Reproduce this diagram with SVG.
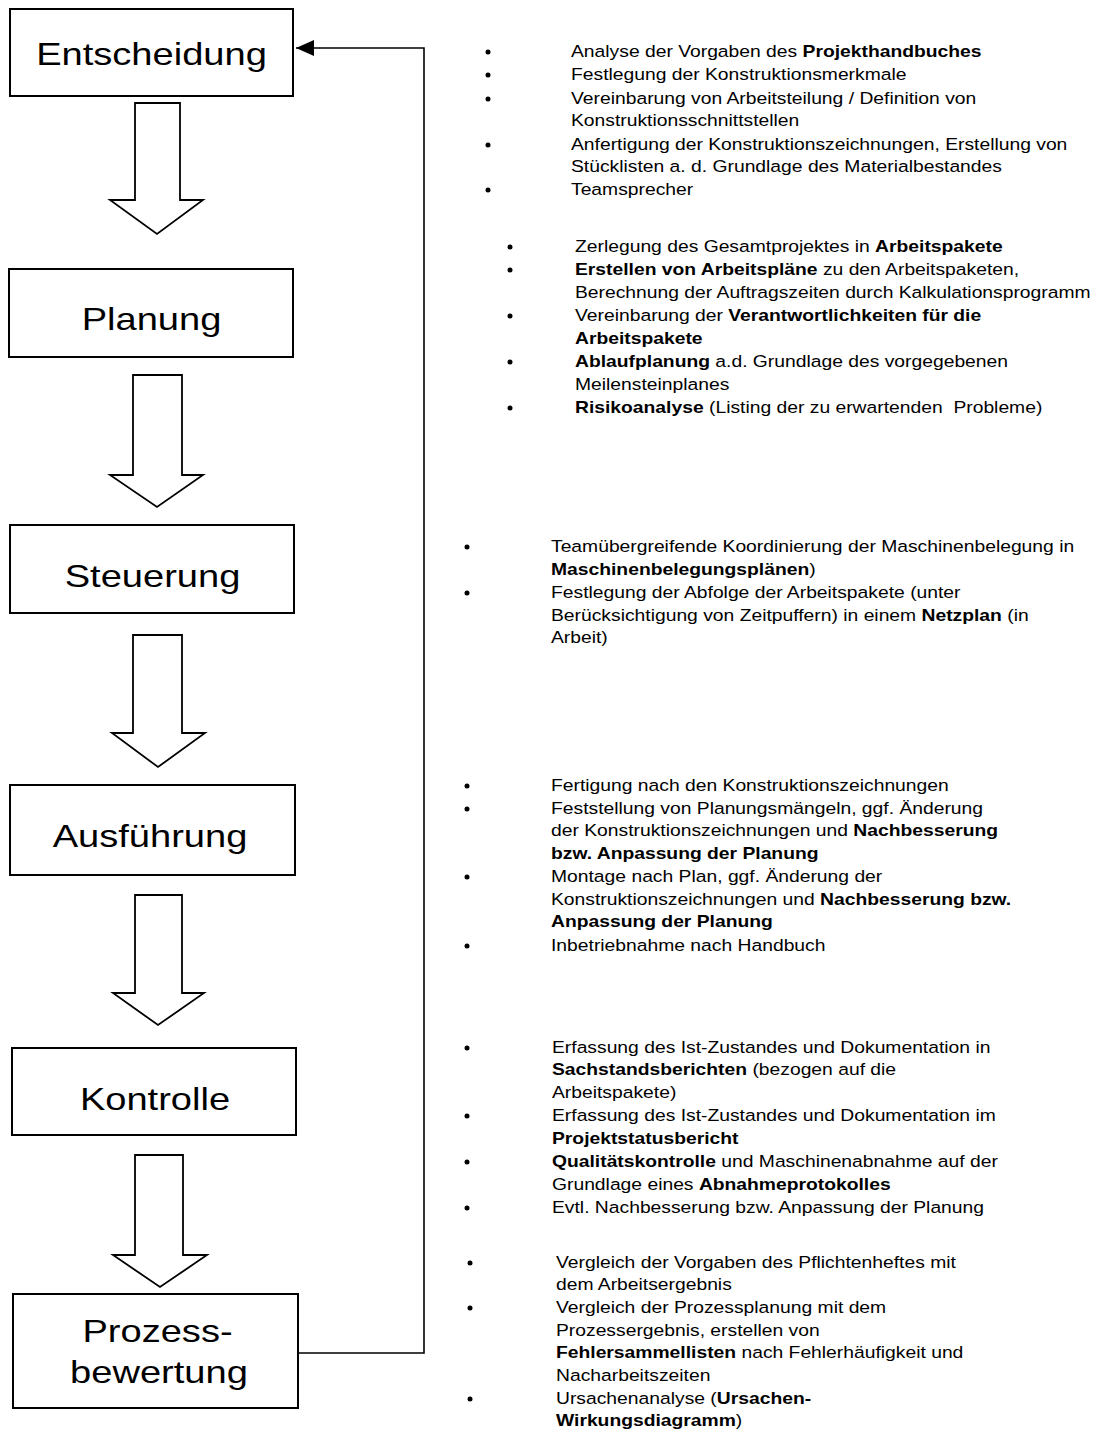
<svg xmlns="http://www.w3.org/2000/svg" width="1098" height="1432" viewBox="0 0 1098 1432">
<style>
.box{fill:#fff;stroke:#000;stroke-width:2}
.blk{fill:#fff;stroke:#000;stroke-width:1.8;stroke-linejoin:miter}
.fb{fill:none;stroke:#000;stroke-width:1.6}
.lbl{font-family:"Liberation Sans",Arial,sans-serif;font-size:32px;fill:#000;text-anchor:middle}
.t{font-family:"Liberation Sans",Arial,sans-serif;font-size:16.5px;fill:#000}
.b{font-weight:bold}
.dot{fill:#000}
</style>
<defs>
<marker id="ah" viewBox="0 0 18 16" refX="18" refY="8" markerWidth="18" markerHeight="16" markerUnits="userSpaceOnUse" orient="auto">
<path d="M0,0 L18,8 L0,16 z" fill="#000"/>
</marker>
</defs>
<rect width="1098" height="1432" fill="#fff"/>

<g id="connectors">
<path class="blk" d="M135,103 H180 V200 H203 L157,234 L110,200 H135 Z"/>
<path class="blk" d="M133,375 H182 V475 H203 L157,507 L110,475 H133 Z"/>
<path class="blk" d="M133,635 H182 V733 H205 L158,767 L112,733 H133 Z"/>
<path class="blk" d="M135,895 H182 V993 H204 L158,1025 L113,993 H135 Z"/>
<path class="blk" d="M135,1155 H183 V1255 H207 L160,1287 L113,1255 H135 Z"/>
<polyline class="fb" points="298,1353 424,1353 424,48 296,48" marker-end="url(#ah)"/>
</g>

<g id="n-entscheidung">
<rect class="box" x="10" y="9" width="283" height="87"/>
<text class="lbl" transform="translate(151.5 65) scale(1.19 1)">Entscheidung</text>
</g>
<g id="n-planung">
<rect class="box" x="9" y="269" width="284" height="88"/>
<text class="lbl" transform="translate(151.5 330) scale(1.19 1)">Planung</text>
</g>
<g id="n-steuerung">
<rect class="box" x="10" y="525" width="284" height="88"/>
<text class="lbl" transform="translate(152.5 587) scale(1.19 1)">Steuerung</text>
</g>
<g id="n-ausfuehrung">
<rect class="box" x="10" y="785" width="285" height="90"/>
<text class="lbl" transform="translate(150 847) scale(1.19 1)">Ausführung</text>
</g>
<g id="n-kontrolle">
<rect class="box" x="12" y="1048" width="284" height="87"/>
<text class="lbl" transform="translate(155 1110) scale(1.19 1)">Kontrolle</text>
</g>
<g id="n-prozessbewertung">
<rect class="box" x="13" y="1294" width="285" height="114"/>
<text class="lbl" transform="translate(157.5 1342) scale(1.19 1)">Prozess-</text>
<text class="lbl" transform="translate(159 1383) scale(1.19 1)">bewertung</text>
</g>

<g id="notes-entscheidung">
<circle class="dot" cx="488" cy="52" r="2.5"/>
<circle class="dot" cx="488" cy="75" r="2.5"/>
<circle class="dot" cx="488" cy="99" r="2.5"/>
<circle class="dot" cx="488" cy="145" r="2.5"/>
<circle class="dot" cx="488" cy="190" r="2.5"/>
<g transform="translate(571 0) scale(1.17 1)">
<text class="t" y="57.5">Analyse der Vorgaben des <tspan class="b">Projekthandbuches</tspan></text>
<text class="t" y="80.5">Festlegung der Konstruktionsmerkmale</text>
<text class="t" y="104.5">Vereinbarung von Arbeitsteilung / Definition von</text>
<text class="t" y="126.5">Konstruktionsschnittstellen</text>
<text class="t" y="150.5">Anfertigung der Konstruktionszeichnungen, Erstellung von</text>
<text class="t" y="172.5">Stücklisten a. d. Grundlage des Materialbestandes</text>
<text class="t" y="195.5">Teamsprecher</text>
</g>
</g>

<g id="notes-planung">
<circle class="dot" cx="510" cy="247" r="2.5"/>
<circle class="dot" cx="510" cy="270" r="2.5"/>
<circle class="dot" cx="510" cy="316" r="2.5"/>
<circle class="dot" cx="510" cy="362" r="2.5"/>
<circle class="dot" cx="510" cy="408" r="2.5"/>
<g transform="translate(575 0) scale(1.17 1)">
<text class="t" y="252.5">Zerlegung des Gesamtprojektes in <tspan class="b">Arbeitspakete</tspan></text>
<text class="t" y="275.5"><tspan class="b">Erstellen von Arbeitspläne</tspan> zu den Arbeitspaketen,</text>
<text class="t" y="298.5">Berechnung der Auftragszeiten durch Kalkulationsprogramm</text>
<text class="t" y="321.5">Vereinbarung der <tspan class="b">Verantwortlichkeiten für die</tspan></text>
<text class="t b" y="344.5">Arbeitspakete</text>
<text class="t" y="367.5"><tspan class="b">Ablaufplanung</tspan> a.d. Grundlage des vorgegebenen</text>
<text class="t" y="390.5">Meilensteinplanes</text>
<text class="t" y="413.5" xml:space="preserve"><tspan class="b">Risikoanalyse</tspan> (Listing der zu erwartenden  Probleme)</text>
</g>
</g>

<g id="notes-steuerung">
<circle class="dot" cx="467" cy="547" r="2.5"/>
<circle class="dot" cx="467" cy="593" r="2.5"/>
<g transform="translate(551 0) scale(1.17 1)">
<text class="t" y="552.5">Teamübergreifende Koordinierung der Maschinenbelegung in</text>
<text class="t" y="575.5"><tspan class="b">Maschinenbelegungsplänen</tspan>)</text>
<text class="t" y="598.5">Festlegung der Abfolge der Arbeitspakete (unter</text>
<text class="t" y="621.5">Berücksichtigung von Zeitpuffern) in einem <tspan class="b">Netzplan</tspan> (in</text>
<text class="t" y="643.5">Arbeit)</text>
</g>
</g>

<g id="notes-ausfuehrung">
<circle class="dot" cx="467" cy="786" r="2.5"/>
<circle class="dot" cx="467" cy="809" r="2.5"/>
<circle class="dot" cx="467" cy="877" r="2.5"/>
<circle class="dot" cx="467" cy="946" r="2.5"/>
<g transform="translate(551 0) scale(1.17 1)">
<text class="t" y="791.5">Fertigung nach den Konstruktionszeichnungen</text>
<text class="t" y="814.5">Feststellung von Planungsmängeln, ggf. Änderung</text>
<text class="t" y="836.5">der Konstruktionszeichnungen und <tspan class="b">Nachbesserung</tspan></text>
<text class="t b" y="859.5">bzw. Anpassung der Planung</text>
<text class="t" y="882.5">Montage nach Plan, ggf. Änderung der</text>
<text class="t" y="905.5">Konstruktionszeichnungen und <tspan class="b">Nachbesserung bzw.</tspan></text>
<text class="t b" y="927.5">Anpassung der Planung</text>
<text class="t" y="951.5">Inbetriebnahme nach Handbuch</text>
</g>
</g>

<g id="notes-kontrolle">
<circle class="dot" cx="467" cy="1048" r="2.5"/>
<circle class="dot" cx="467" cy="1116" r="2.5"/>
<circle class="dot" cx="467" cy="1162" r="2.5"/>
<circle class="dot" cx="467" cy="1208" r="2.5"/>
<g transform="translate(552 0) scale(1.17 1)">
<text class="t" y="1053.5">Erfassung des Ist-Zustandes und Dokumentation in</text>
<text class="t" y="1075.5"><tspan class="b">Sachstandsberichten</tspan> (bezogen auf die</text>
<text class="t" y="1098.5">Arbeitspakete)</text>
<text class="t" y="1121.5">Erfassung des Ist-Zustandes und Dokumentation im</text>
<text class="t b" y="1144.5">Projektstatusbericht</text>
<text class="t" y="1167.5"><tspan class="b">Qualitätskontrolle</tspan> und Maschinenabnahme auf der</text>
<text class="t" y="1190.5">Grundlage eines <tspan class="b">Abnahmeprotokolles</tspan></text>
<text class="t" y="1213.5">Evtl. Nachbesserung bzw. Anpassung der Planung</text>
</g>
</g>

<g id="notes-prozessbewertung">
<circle class="dot" cx="470" cy="1263" r="2.5"/>
<circle class="dot" cx="470" cy="1308" r="2.5"/>
<circle class="dot" cx="470" cy="1399" r="2.5"/>
<g transform="translate(556 0) scale(1.17 1)">
<text class="t" y="1268.5">Vergleich der Vorgaben des Pflichtenheftes mit</text>
<text class="t" y="1290.5">dem Arbeitsergebnis</text>
<text class="t" y="1313.5">Vergleich der Prozessplanung mit dem</text>
<text class="t" y="1336.5">Prozessergebnis, erstellen von</text>
<text class="t" y="1358.5"><tspan class="b">Fehlersammellisten</tspan> nach Fehlerhäufigkeit und</text>
<text class="t" y="1381.5">Nacharbeitszeiten</text>
<text class="t" y="1404.5">Ursachenanalyse (<tspan class="b">Ursachen-</tspan></text>
<text class="t" y="1426.5"><tspan class="b">Wirkungsdiagramm</tspan>)</text>
</g>
</g>
</svg>
